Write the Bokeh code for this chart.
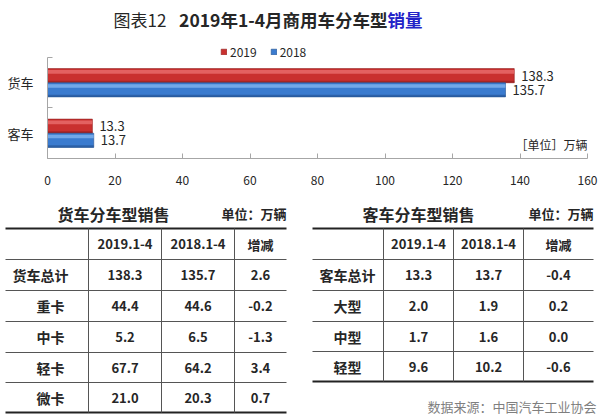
from bokeh.plotting import figure
from bokeh.models import Range1d, FixedTicker, ColumnDataSource, Legend, LegendItem
from bokeh.core.properties import value
from bokeh.embed import file_html
from bokeh.resources import INLINE

# ---------------- data ----------------
categories = ["客车", "货车"]          # bottom to top
sales_2019 = [13.3, 138.3]
sales_2018 = [13.7, 135.7]
series_names = ["2019", "2018"]
x_ticks = [0, 20, 40, 60, 80, 100, 120, 140, 160]

table_cols = ["2019.1-4", "2018.1-4", "增减"]
truck_rows = ["货车总计", "重卡", "中卡", "轻卡", "微卡"]
truck_2019 = [138.3, 44.4, 5.2, 67.7, 21.0]
truck_2018 = [135.7, 44.6, 6.5, 64.2, 20.3]
truck_diff = [2.6, -0.2, -1.3, 3.4, 0.7]
bus_rows = ["客车总计", "大型", "中型", "轻型"]
bus_2019 = [13.3, 2.0, 1.7, 9.6]
bus_2018 = [13.7, 1.9, 1.6, 10.2]
bus_diff = [-0.4, 0.2, 0.0, -0.6]

FONT = value("Noto Sans CJK SC")
RED, RED_HI, RED_LO = "#C9302F", "#E86A6A", "#8E1E1E"
BLUE, BLUE_HI, BLUE_LO = "#3A7BCF", "#7DB0EC", "#23508F"
TXT = "#262626"

def blank(h, y0, y1):
    f = figure(width=600, height=h, output_backend="svg", toolbar_location=None,
               x_range=Range1d(0, 600), y_range=Range1d(y1, y0),
               x_axis_location=None, y_axis_location=None, min_border=0)
    f.grid.visible = False
    f.outline_line_color = None
    f.background_fill_color = "white"
    f.border_fill_color = "white"
    return f

# ---------------- header (title) ----------------
head = blank(40, 0, 40)
head.text(x=[113], y=[19], text=["图表12"], text_font=FONT, text_font_size="17px",
          text_baseline="middle", text_align="left", text_color=TXT)
head.text(x=[387], y=[19], text=["2019年1-4月商用车分车型"], text_font=FONT,
          text_font_size="17.5px", text_font_style="bold", text_baseline="middle",
          text_align="right", text_color=TXT)
head.text(x=[387], y=[19], text=["销量"], text_font=FONT, text_font_size="17.5px",
          text_font_style="bold", text_baseline="middle", text_align="left",
          text_color="#2323C8")

# ---------------- bar chart ----------------
n = len(categories)
chart = figure(width=600, height=155, output_backend="svg", toolbar_location=None,
               x_range=Range1d(0, 160), y_range=Range1d(0, n * 1.1683),
               min_border_left=47, min_border_right=13, min_border_top=0,
               min_border_bottom=37)
chart.grid.visible = False
chart.outline_line_color = None

centers = [i + 0.5 for i in range(n)]
bh = 0.28
main_renderers = []
for vals, off, c, hi, lo in [(sales_2019, 0.14, RED, RED_HI, RED_LO),
                             (sales_2018, -0.14, BLUE, BLUE_HI, BLUE_LO)]:
    ys = [y + off for y in centers]
    src = ColumnDataSource(dict(y=ys, v=vals, lab=["%.1f" % v for v in vals]))
    r = chart.hbar(y="y", right="v", left=0, height=bh, source=src,
                   fill_color=c, line_color=lo, line_width=0.6)
    main_renderers.append(r)
    chart.hbar(y=[y + 0.075 for y in ys], right=vals, left=0, height=0.07,
               fill_color=hi, line_color=None, fill_alpha=0.85)
    chart.hbar(y=[y - 0.12 for y in ys], right=vals, left=0, height=0.04,
               fill_color=lo, line_color=None, fill_alpha=0.6)
    chart.text(x="v", y="y", text="lab", source=src, x_offset=7,
               text_font=FONT, text_font_size="13px", text_baseline="middle",
               text_align="left", text_color=TXT)

chart.text(x=[160], y=[0.28], text=["［单位］万辆"], text_font=FONT,
           text_font_size="12px", text_baseline="middle", text_align="right",
           text_color=TXT)

legend = Legend(items=[LegendItem(label=s, renderers=[r])
                       for s, r in zip(series_names, main_renderers)],
                orientation="horizontal", location=(173, 98),
                glyph_width=7, glyph_height=7, label_height=12, label_standoff=3,
                spacing=13, padding=0, margin=0, border_line_color=None,
                background_fill_alpha=0, label_text_font="Noto Sans CJK SC",
                label_text_font_size="12px", label_text_color=TXT)
chart.add_layout(legend)

xa = chart.xaxis[0]
xa.ticker = FixedTicker(ticks=x_ticks)
xa.major_tick_in = 5
xa.major_tick_out = 0
xa.minor_tick_line_color = None
xa.axis_line_color = "#A6A6A6"
xa.major_tick_line_color = "#A6A6A6"
xa.major_label_standoff = 17
xa.major_label_text_font = "Noto Sans CJK SC"
xa.major_label_text_font_size = "12px"
xa.major_label_text_color = TXT

ya = chart.yaxis[0]
ya.bounds = (0, n)
ya.ticker = FixedTicker(ticks=centers, minor_ticks=list(range(n + 1)))
ya.major_label_overrides = {c: nm for c, nm in zip(centers, categories)}
ya.major_tick_in = 0
ya.major_tick_out = 0
ya.minor_tick_in = 5
ya.minor_tick_out = 0
ya.minor_tick_line_color = "#A6A6A6"
ya.axis_line_color = "#A6A6A6"
ya.major_label_standoff = 14
ya.major_label_text_font = "Noto Sans CJK SC"
ya.major_label_text_font_size = "13px"
ya.major_label_text_color = TXT

# ---------------- tables ----------------
tab = blank(222, 195, 417)

def draw_table(t, title, rows, c1, c2, c3, x0, x1, vlines, label_x, bounds, title_x):
    t.text(x=[title_x], y=[213], text=[title], text_font=FONT, text_font_size="16px",
           text_font_style="bold", text_baseline="middle", text_align="center", text_color=TXT)
    t.text(x=[x1], y=[213], text=["单位：万辆"], text_font=FONT, text_font_size="13px",
           text_font_style="bold", text_baseline="middle", text_align="right", text_color=TXT)
    top, bot = bounds[0], bounds[-1]
    t.segment(x0=[x0, x0], x1=[x1, x1], y0=[top, bot], y1=[top, bot],
              line_color="#222222", line_width=2)
    mids = bounds[1:-1]
    t.segment(x0=[x0] * len(mids), x1=[x1] * len(mids), y0=mids, y1=mids,
              line_color="#555555", line_width=1)
    t.segment(x0=vlines, x1=vlines, y0=[top] * len(vlines), y1=[bot] * len(vlines),
              line_color="#555555", line_width=1)
    colx = [(vlines[0] + vlines[1]) / 2, (vlines[1] + vlines[2]) / 2, (vlines[2] + x1) / 2]
    ycs = [(bounds[i] + bounds[i + 1]) / 2 for i in range(len(bounds) - 1)]
    t.text(x=colx, y=[ycs[0]] * 3, text=table_cols, text_font=FONT, text_font_size="13px",
           text_font_style="bold", text_baseline="middle", text_align="center", text_color=TXT)
    ry = ycs[1:]
    t.text(x=label_x, y=ry, text=rows, text_font=FONT, text_font_size="14px",
           text_font_style="bold", text_baseline="middle", text_align="center", text_color=TXT)
    for cx, vals in zip(colx, [c1, c2, c3]):
        t.text(x=[cx] * len(vals), y=ry, text=["%.1f" % v for v in vals], text_font=FONT,
               text_font_size="13px", text_font_style="bold", text_baseline="middle",
               text_align="center", text_color=TXT)

draw_table(tab, "货车分车型销售", truck_rows, truck_2019, truck_2018, truck_diff,
           5, 286, [88, 161, 234], [40, 50, 50, 50, 50],
           [228, 259, 290, 321, 352, 382, 412], 113)
draw_table(tab, "客车分车型销售", bus_rows, bus_2019, bus_2018, bus_diff,
           312, 593, [383, 453, 523], [347, 347, 347, 347],
           [228, 259, 290, 321, 351, 381], 418)
tab.text(x=[596], y=[406], text=["数据来源：中国汽车工业协会"], text_font=FONT,
         text_font_size="13px", text_baseline="middle", text_align="right", text_color="#7F7F7F")

open("out.html", "w").write(file_html([head, chart, tab], INLINE))
